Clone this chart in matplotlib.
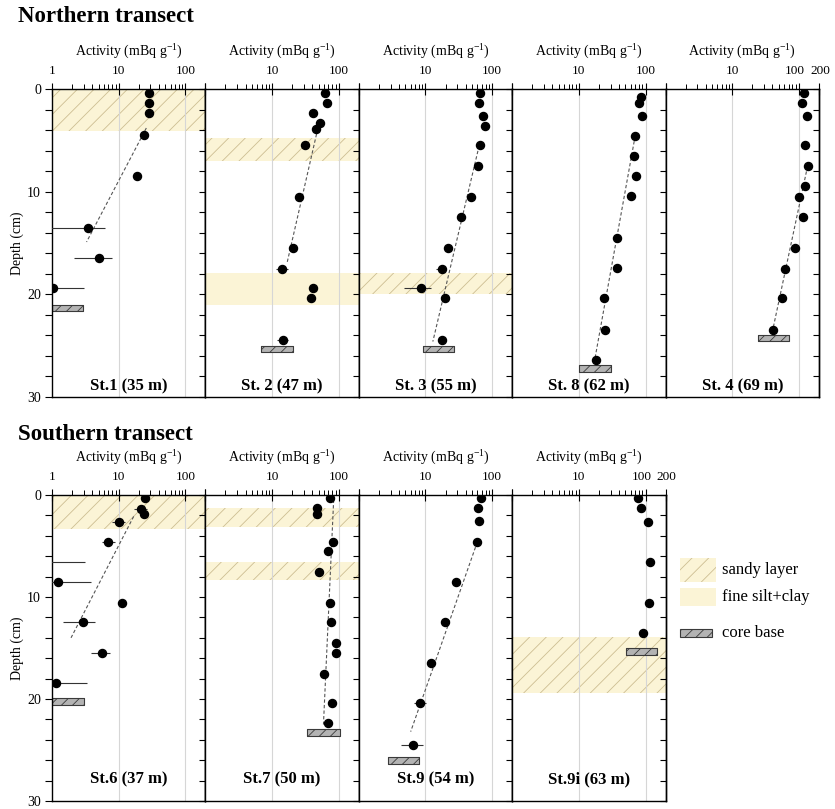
import matplotlib
matplotlib.use("Agg")
import matplotlib.pyplot as plt
from matplotlib.patches import Rectangle
from matplotlib.ticker import FixedLocator, LogLocator, NullFormatter, MultipleLocator
from matplotlib.transforms import ScaledTranslation
import numpy as np

plt.rcParams['font.family'] = ['Liberation Serif', 'DejaVu Serif']
plt.rcParams['mathtext.fontset'] = 'custom'
plt.rcParams['mathtext.rm'] = 'Liberation Serif'
plt.rcParams['mathtext.it'] = 'Liberation Serif:italic'
plt.rcParams['mathtext.bf'] = 'Liberation Serif:bold'
plt.rcParams['hatch.linewidth'] = 0.6

# ---------------- data ----------------
# St.1 (35 m)
st1_depth = [0.35, 1.33, 2.34, 4.5, 8.47, 13.5, 16.5, 19.4]
st1_act = [29, 29, 29, 24, 19, 3.5, 5.0, 1.02]
st1_err_depth = [13.5, 16.5, 19.4]
st1_err_lo = [0.5, 2.15, 0.5]
st1_err_hi = [6.3, 7.9, 3.0]
st1_fit_act = [26, 3.3]
st1_fit_depth = [3.8, 14.9]
st1_base_depth = [21.0, 21.6]
st1_base_act = [1.0, 2.9]
st1_sand = [(0.0, 4.1)]
st1_silt = []

# St.2 (47 m)
st2_depth = [0.36, 1.33, 2.3, 3.3, 3.86, 5.5, 10.5, 15.5, 17.5, 19.4, 20.4, 24.4]
st2_act = [63, 67, 41, 52, 45, 31.5, 25, 20.4, 14.2, 41.6, 39, 14.7]
st2_err_depth = [15.5, 17.5, 24.4]
st2_err_lo = [18, 11.5, 12]
st2_err_hi = [23, 17.3, 17.5]
st2_fit_act = [48.5, 16.7]
st2_fit_depth = [3.86, 17.0]
st2_base_depth = [25.0, 25.6]
st2_base_act = [6.9, 20.6]
st2_sand = [(4.8, 7.0)]
st2_silt = [(17.9, 21.0)]

# St.3 (55 m)
st3_depth = [0.36, 1.33, 2.6, 3.6, 5.5, 7.46, 10.5, 12.46, 15.45, 17.5, 19.4, 20.4, 24.4]
st3_act = [65.6, 62.7, 74, 78.5, 65.6, 62, 48, 34, 22, 17.4, 8.6, 19.3, 17.7]
st3_err_depth = [17.5, 19.4, 24.4]
st3_err_lo = [14.5, 4.7, 16]
st3_err_hi = [20, 12, 20]
st3_fit_act = [64, 12.9]
st3_fit_depth = [5.5, 24.6]
st3_base_depth = [25.0, 25.6]
st3_base_act = [9.2, 26.7]
st3_sand = [(17.9, 20.0)]
st3_silt = []

# St.8 (62 m)
st8_depth = [0.8, 1.33, 2.6, 4.55, 6.5, 8.44, 10.45, 14.5, 17.46, 20.4, 23.5, 26.4]
st8_act = [87, 80, 90, 70, 68, 72.5, 61, 36.7, 37, 23.7, 25, 18]
st8_err_depth = []
st8_err_lo = []
st8_err_hi = []
st8_fit_act = [70, 17.1]
st8_fit_depth = [4.55, 26.55]
st8_base_depth = [26.9, 27.6]
st8_base_act = [10, 30]
st8_sand = []
st8_silt = []

# St.4 (69 m)
st4_depth = [0.36, 1.33, 2.6, 5.5, 7.5, 9.45, 10.5, 12.46, 15.5, 17.5, 20.4, 23.5]
st4_act = [119, 110, 130, 124, 135, 124, 100, 115, 88, 62, 55.6, 41]
st4_err_depth = []
st4_err_lo = []
st4_err_hi = []
st4_fit_act = [135, 41]
st4_fit_depth = [7.5, 23.3]
st4_base_depth = [24.0, 24.5]
st4_base_act = [24, 70.5]
st4_sand = []
st4_silt = []

# St.6 (37 m)
st6_depth = [0.32, 1.36, 1.88, 2.6, 4.6, 6.6, 8.55, 10.6, 12.5, 15.5, 18.45]
st6_act = [24.6, 22, 24, 10, 7.0, 0.6, 1.25, 11.1, 2.9, 5.6, 1.13]
st6_err_depth = [1.36, 2.6, 4.6, 6.6, 8.55, 12.5, 15.5, 18.45]
st6_err_lo = [16.8, 7.9, 5.6, 0.5, 0.5, 1.46, 3.8, 0.5]
st6_err_hi = [27, 12.6, 8.9, 3.16, 3.85, 4.47, 7.3, 3.4]
st6_fit_act = [16.8, 1.93]
st6_fit_depth = [2.1, 14.0]
st6_base_depth = [19.95, 20.6]
st6_base_act = [1.0, 2.97]
st6_sand = [(0.0, 3.3)]
st6_silt = []

# St.7 (50 m)
st7_depth = [0.33, 1.3, 1.9, 4.6, 5.5, 7.5, 10.55, 12.5, 14.5, 15.5, 17.5, 20.4, 22.4]
st7_act = [75, 47, 48, 81, 68, 50, 73, 76, 90, 91, 60, 80, 69]
st7_err_depth = []
st7_err_lo = []
st7_err_hi = []
st7_fit_act = [84, 59]
st7_fit_depth = [0.45, 22.5]
st7_base_depth = [22.95, 23.6]
st7_base_act = [34, 103]
st7_sand = [(1.23, 3.17), (6.55, 8.36)]
st7_silt = []

# St.9 (54 m)
st9_depth = [0.33, 1.3, 2.56, 4.6, 8.56, 12.5, 16.5, 20.4, 24.5]
st9_act = [67, 62, 63, 59, 29, 19.5, 12.2, 8.4, 6.6]
st9_err_depth = [20.4, 24.5]
st9_err_lo = [6.8, 4.3]
st9_err_hi = [10.2, 9.1]
st9_fit_act = [60, 6.0]
st9_fit_depth = [4.6, 23.2]
st9_base_depth = [25.7, 26.4]
st9_base_act = [2.7, 8.1]
st9_sand = []
st9_silt = []

# St.9i (63 m)
st9i_depth = [0.33, 1.3, 2.6, 6.55, 10.56, 13.55]
st9i_act = [76, 86, 108, 115, 111, 93]
st9i_err_depth = []
st9i_err_lo = []
st9i_err_hi = []
st9i_fit_act = []
st9i_fit_depth = []
st9i_base_depth = [15.0, 15.66]
st9i_base_act = [51, 150]
st9i_sand = [(13.95, 19.4)]
st9i_silt = []

north_names = ['St.1 (35 m)', 'St. 2 (47 m)', 'St. 3 (55 m)', 'St. 8 (62 m)', 'St. 4 (69 m)']
south_names = ['St.6 (37 m)', 'St.7 (50 m)', 'St.9 (54 m)', 'St.9i (63 m)']
x_ticks = [1, 10, 100, 200]
depth_ticks = [0, 10, 20, 30]


def station(d, a, ed, elo, ehi, fa, fd, bd, ba, sand, silt):
    return dict(depth=d, act=a, err_depth=ed, err_lo=elo, err_hi=ehi,
                fit_act=fa, fit_depth=fd, base_depth=bd, base_act=ba,
                sand=sand, silt=silt)


north = [
    station(st1_depth, st1_act, st1_err_depth, st1_err_lo, st1_err_hi, st1_fit_act, st1_fit_depth, st1_base_depth, st1_base_act, st1_sand, st1_silt),
    station(st2_depth, st2_act, st2_err_depth, st2_err_lo, st2_err_hi, st2_fit_act, st2_fit_depth, st2_base_depth, st2_base_act, st2_sand, st2_silt),
    station(st3_depth, st3_act, st3_err_depth, st3_err_lo, st3_err_hi, st3_fit_act, st3_fit_depth, st3_base_depth, st3_base_act, st3_sand, st3_silt),
    station(st8_depth, st8_act, st8_err_depth, st8_err_lo, st8_err_hi, st8_fit_act, st8_fit_depth, st8_base_depth, st8_base_act, st8_sand, st8_silt),
    station(st4_depth, st4_act, st4_err_depth, st4_err_lo, st4_err_hi, st4_fit_act, st4_fit_depth, st4_base_depth, st4_base_act, st4_sand, st4_silt),
]
south = [
    station(st6_depth, st6_act, st6_err_depth, st6_err_lo, st6_err_hi, st6_fit_act, st6_fit_depth, st6_base_depth, st6_base_act, st6_sand, st6_silt),
    station(st7_depth, st7_act, st7_err_depth, st7_err_lo, st7_err_hi, st7_fit_act, st7_fit_depth, st7_base_depth, st7_base_act, st7_sand, st7_silt),
    station(st9_depth, st9_act, st9_err_depth, st9_err_lo, st9_err_hi, st9_fit_act, st9_fit_depth, st9_base_depth, st9_base_act, st9_sand, st9_silt),
    station(st9i_depth, st9i_act, st9i_err_depth, st9i_err_lo, st9i_err_hi, st9i_fit_act, st9i_fit_depth, st9i_base_depth, st9i_base_act, st9i_sand, st9i_silt),
]

# ---------------- style ----------------
BAND = '#FBF4D6'
HATCH_C = '#CDBE92'
BASE_FACE = '#b3b3b3'
BASE_EDGE = '#3a3a3a'

W, H = 835, 809
fig = plt.figure(figsize=(W / 100, H / 100), dpi=100)

# legend / annotation layer (pixel coordinates)
lax = fig.add_axes([0, 0, 1, 1])
lax.set_xlim(0, W)
lax.set_ylim(H, 0)
lax.axis('off')


def px_axes(x0, y0, x1, y1):
    return fig.add_axes([x0 / W, 1 - y1 / H, (x1 - x0) / W, (y1 - y0) / H])


def draw_panel(ax, st, name, first, last, label_frac, hpx):
    ax.set_xscale('log')
    ax.set_xlim(1, 200)
    ax.set_ylim(30, 0)
    for d0, d1 in st['sand']:
        ax.axhspan(d0, d1, facecolor=BAND, edgecolor=HATCH_C, hatch='//', lw=0, zorder=0)
    for d0, d1 in st['silt']:
        ax.axhspan(d0, d1, facecolor=BAND, lw=0, zorder=0)
    for g in (10, 100):
        ax.axvline(g, color='#d6d6d6', lw=0.8, zorder=0.5)
    ax.fill_betweenx(st['base_depth'], st['base_act'][0], st['base_act'][1],
                     facecolor=BASE_FACE, edgecolor=BASE_EDGE, hatch='///', lw=0.8, zorder=2)
    if len(st['fit_act']):
        ax.plot(st['fit_act'], st['fit_depth'], ls=(0, (3, 2)), color='#555555', lw=0.8, zorder=3)
    if len(st['err_depth']):
        ax.hlines(st['err_depth'], st['err_lo'], st['err_hi'], color='#333333', lw=0.8, zorder=3)
    ax.plot(st['act'], st['depth'], 'o', color='black', ms=5.8, zorder=4)

    # x axis (top)
    ax.xaxis.tick_top()
    ax.set_xticks(x_ticks)
    ax.set_xticklabels(['1' if first else '', '10', '100', '200' if last else ''])
    ax.xaxis.set_minor_locator(LogLocator(base=10, subs=np.arange(2, 10)))
    ax.xaxis.set_minor_formatter(NullFormatter())
    ax.tick_params(axis='x', which='major', direction='inout', length=9, width=0.8,
                   labelsize=9.5, pad=4, top=True, bottom=False)
    ax.tick_params(axis='x', which='minor', direction='out', length=3.5, width=0.7,
                   top=True, bottom=False)
    if last:
        ticks = ax.xaxis.get_major_ticks()
        for t, dx in ((ticks[2], -4), (ticks[3], 1)):
            lab = t.label2
            lab.set_transform(lab.get_transform() + ScaledTranslation(dx / 100, 0, fig.dpi_scale_trans))

    # y axis
    ax.yaxis.set_major_locator(FixedLocator(depth_ticks))
    ax.yaxis.set_minor_locator(MultipleLocator(2))
    if first:
        ax.tick_params(axis='y', which='both', direction='out', length=5, width=0.8,
                       labelsize=10, left=True, right=False, labelleft=True, pad=3)
    else:
        ax.tick_params(axis='y', which='both', left=False, right=False, labelleft=False)
    sec = ax.secondary_yaxis('right')
    sec.yaxis.set_major_locator(MultipleLocator(2))
    sec.yaxis.set_major_formatter(NullFormatter())
    sec.tick_params(axis='y', direction='in', length=4.5, width=0.8)
    sec.spines['right'].set_linewidth(1.0)

    for sp in ax.spines.values():
        sp.set_linewidth(1.0)
        sp.set_color('black')

    ax.text(0.5, 1 + 37 / hpx, r'Activity (mBq g$^{-1}$)', transform=ax.transAxes,
            ha='center', va='center', fontsize=10)
    ax.text(0.5, label_frac, name, transform=ax.transAxes, ha='center', va='center',
            fontsize=12, fontweight='bold', zorder=5)


PW = 153.4
lefts = [52 + PW * k for k in range(5)]

for k, (st, name) in enumerate(zip(north, north_names)):
    ax = px_axes(lefts[k], 89, lefts[k] + PW, 397)
    draw_panel(ax, st, name, k == 0, k == len(north) - 1, 11 / 308, 308)

for k, (st, name) in enumerate(zip(south, south_names)):
    ax = px_axes(lefts[k], 495, lefts[k] + PW, 801)
    draw_panel(ax, st, name, k == 0, k == len(south) - 1, 22 / 306, 306)

# titles and depth labels
fig.text(18 / W, 1 - 16 / H, 'Northern transect', fontsize=16.5, fontweight='bold', va='center', ha='left')
fig.text(18 / W, 1 - 434 / H, 'Southern transect', fontsize=16.5, fontweight='bold', va='center', ha='left')
fig.text(17 / W, 1 - 243 / H, 'Depth (cm)', rotation=90, va='center', ha='center', fontsize=10)
fig.text(17 / W, 1 - 648 / H, 'Depth (cm)', rotation=90, va='center', ha='center', fontsize=10)

# legend
lax.add_patch(Rectangle((680, 558), 36, 24, facecolor=BAND, edgecolor=HATCH_C, hatch='//', lw=0))
lax.add_patch(Rectangle((680, 588), 36, 18, facecolor=BAND, lw=0))
lax.add_patch(Rectangle((680, 629), 32, 8, facecolor=BASE_FACE, edgecolor=BASE_EDGE, hatch='///', lw=0.8))
lax.text(722, 570, 'sandy layer', fontsize=12, va='center', ha='left')
lax.text(722, 597, 'fine silt+clay', fontsize=12, va='center', ha='left')
lax.text(722, 633, 'core base', fontsize=12, va='center', ha='left')

fig.savefig('out.png', dpi=100)
